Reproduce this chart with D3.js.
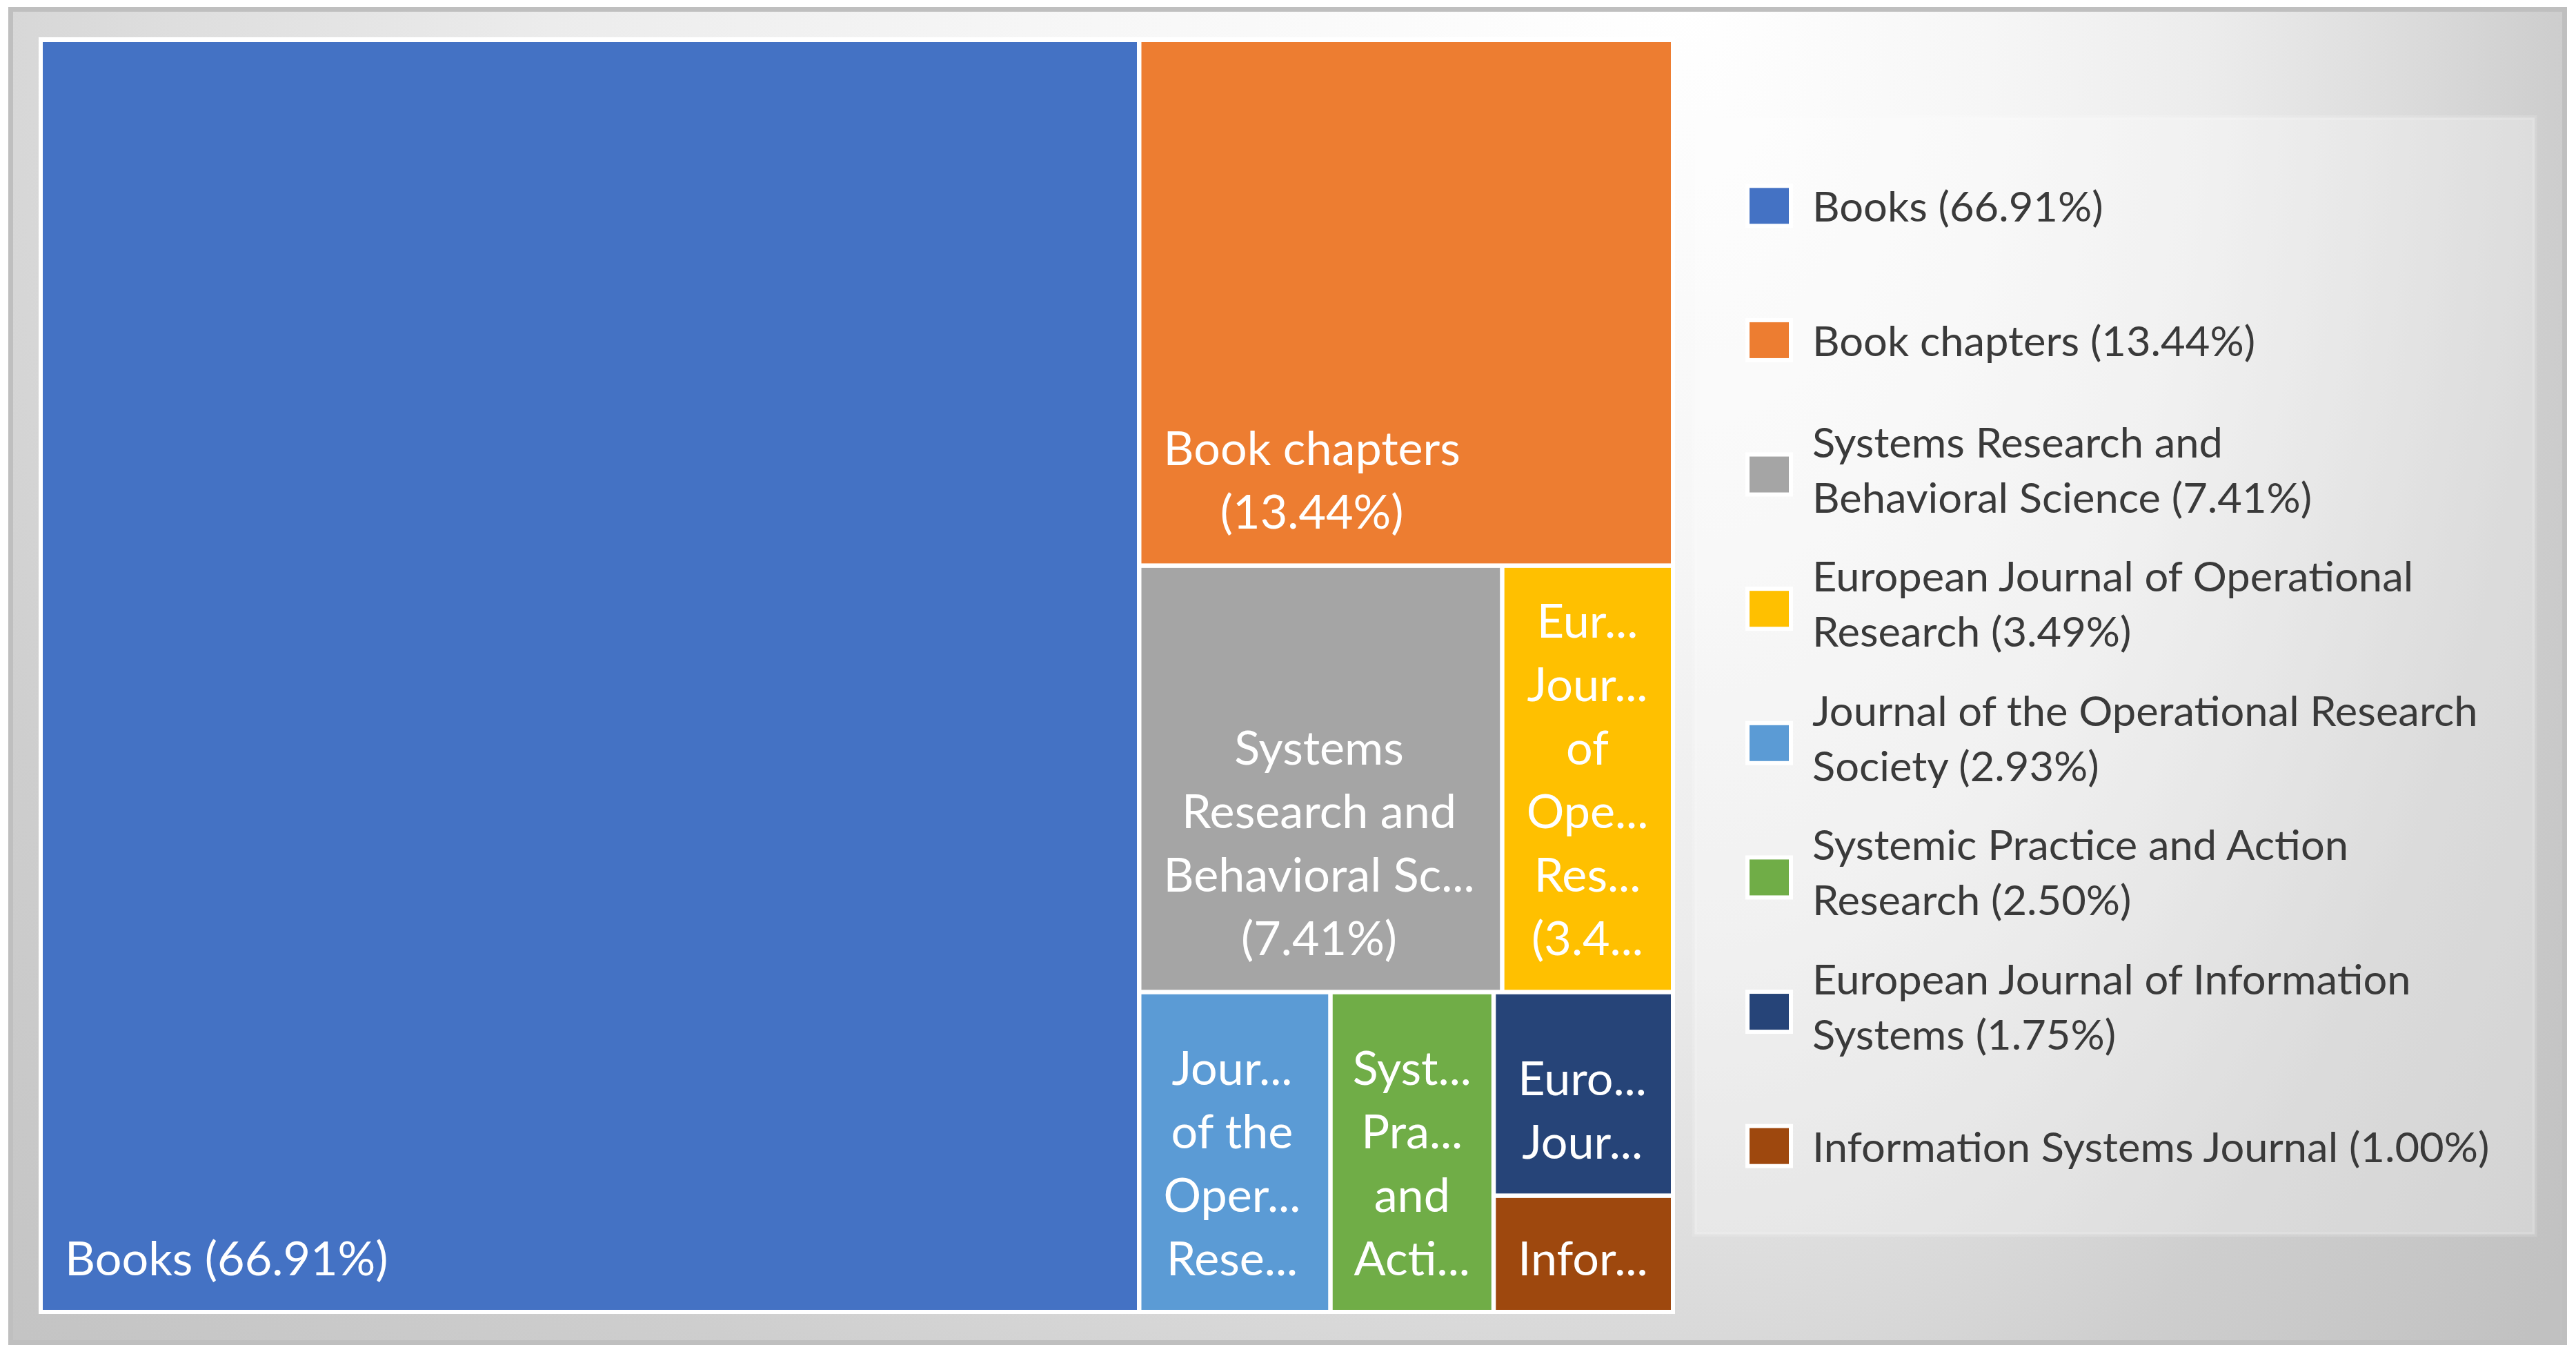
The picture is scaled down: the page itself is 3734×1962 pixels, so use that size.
<!DOCTYPE html>
<html><head><meta charset="utf-8">
<script src="https://cdn.jsdelivr.net/npm/d3@7"></script>
<style>html,body{margin:0;padding:0;background:#fff;overflow:hidden} svg{display:block}</style>
</head><body>
<svg id="chart" width="3734" height="1962"></svg>
<script>
// ---------- data ----------
const categories = [
  "Books",
  "Book chapters",
  "Systems Research and Behavioral Science",
  "European Journal of Operational Research",
  "Journal of the Operational Research Society",
  "Systemic Practice and Action Research",
  "European Journal of Information Systems",
  "Information Systems Journal"
];
const shares = [66.91, 13.44, 7.41, 3.49, 2.93, 2.50, 1.75, 1.00];
const colors = ["#4472C4", "#ED7D31", "#A5A5A5", "#FFC000", "#5B9BD5", "#70AD47", "#264478", "#9E480E"];
// labels as displayed inside the tiles (truncated as in the original)
const tileLabelLines = [
  ["Books (66.91%)"],
  ["Book chapters", "(13.44%)"],
  ["Systems", "Research and", "Behavioral Sc...", "(7.41%)"],
  ["Eur...", "Jour...", "of", "Ope...", "Res...", "(3.4..."],
  ["Jour...", "of the", "Oper...", "Rese..."],
  ["Syst...", "Pra...", "and", "Acti..."],
  ["Euro...", "Jour..."],
  ["Infor..."]
];
const legendLines = [
  ["Books (66.91%)"],
  ["Book chapters (13.44%)"],
  ["Systems Research and", "Behavioral Science (7.41%)"],
  ["European Journal of Operational", "Research (3.49%)"],
  ["Journal of the Operational Research", "Society (2.93%)"],
  ["Systemic Practice and Action", "Research (2.50%)"],
  ["European Journal of Information", "Systems (1.75%)"],
  ["Information Systems Journal (1.00%)"]
];

// ---------- drawing ----------
const svg = d3.select("#chart");
const defs = svg.append("defs");
const FONT = "Lato, 'Open Sans', sans-serif";

// background gradient (elliptical radial, lighter near top-right of plot)
const gStops = [[0,255],[0.35,246],[0.6,236],[0.8,222],[1.0,206],[1.3,193]];
function ellipseGradient(id, rx, ry) {
  const g = defs.append("radialGradient").attr("id", id)
    .attr("gradientUnits", "userSpaceOnUse")
    .attr("cx", 0).attr("cy", 0).attr("r", 1.3)
    .attr("gradientTransform", `translate(2450,0) scale(${rx},${ry})`);
  gStops.forEach(([d, v]) => g.append("stop").attr("offset", d / 1.3).attr("stop-color", d3.rgb(v, v, v).toString()));
}
ellipseGradient("bgL", 2750, 2250);
ellipseGradient("bgR", 1250, 2250);

const frame = {x0: 12, y0: 10, x1: 3721, y1: 1949};
svg.append("rect").attr("x", frame.x0).attr("y", frame.y0)
  .attr("width", 2450 - frame.x0).attr("height", frame.y1 - frame.y0).attr("fill", "url(#bgL)");
svg.append("rect").attr("x", 2450).attr("y", frame.y0)
  .attr("width", frame.x1 - 2450).attr("height", frame.y1 - frame.y0).attr("fill", "url(#bgR)");
svg.append("rect").attr("x", frame.x0 + 3.5).attr("y", frame.y0 + 3.5)
  .attr("width", frame.x1 - frame.x0 - 7).attr("height", frame.y1 - frame.y0 - 7)
  .attr("fill", "none").attr("stroke", "#bfbfbf").attr("stroke-width", 7);

// plot area
const plot = {x0: 56, y0: 54, x1: 2428, y1: 1904};
svg.append("rect").attr("x", plot.x0).attr("y", plot.y0)
  .attr("width", plot.x1 - plot.x0).attr("height", plot.y1 - plot.y0).attr("fill", "#ffffff");

const gap = 6.5;
const tm = {x0: plot.x0 + 2.75, y0: plot.y0 + 3.75, x1: plot.x1 - 2.75, y1: plot.y1 - 2.75};

const root = d3.hierarchy({children: categories.map((c, i) => ({name: c, value: shares[i], idx: i}))})
  .sum(d => d.value || 0)
  .sort((a, b) => b.value - a.value);
d3.treemap().tile(d3.treemapBinary).size([tm.x1 - tm.x0, tm.y1 - tm.y0]).round(false)(root);

const gTiles = svg.append("g").attr("transform", `translate(${tm.x0},${tm.y0})`);
const leaves = root.leaves();
gTiles.selectAll("rect.tile").data(leaves).join("rect").attr("class", "tile")
  .attr("x", d => d.x0 + gap / 2).attr("y", d => d.y0 + gap / 2)
  .attr("width", d => d.x1 - d.x0 - gap).attr("height", d => d.y1 - d.y0 - gap)
  .attr("fill", d => colors[d.data.idx]);

// font calibration (match the width of the original's Calibri-like text)
function measure(txt, size) {
  const t = svg.append("text").attr("font-family", FONT).attr("font-size", size).text(txt);
  const w = t.node().getComputedTextLength();
  t.remove();
  return w;
}
const tileFont = 68, legendFont = 60;
const tileSX = 1.01 * 464 / measure("Books (66.91%)", tileFont);
const legendSX = 0.5 * (416 / measure("Books (66.91%)", legendFont) +
                        995 / measure("Information Systems Journal (1.00%)", legendFont));

// tile labels: block anchored bottom-left, lines centred within block
const padX = 32, padBottom = 50, tileLH = 92;
leaves.forEach(d => {
  const lines = tileLabelLines[d.data.idx];
  const tx0 = d.x0 + gap / 2, tx1 = d.x1 - gap / 2, ty1 = d.y1 - gap / 2;
  const widths = lines.map(l => measure(l, tileFont) * tileSX);
  const blockW = d3.max(widths);
  let cx = tx0 + padX + blockW / 2;
  if (blockW > (tx1 - tx0) - 2 * padX) cx = (tx0 + tx1) / 2;
  const n = lines.length;
  lines.forEach((l, k) => {
    const by = ty1 - padBottom - (n - 1 - k) * tileLH;
    gTiles.append("text")
      .attr("transform", `translate(${cx},${by}) scale(${tileSX},1)`)
      .attr("text-anchor", "middle")
      .attr("font-family", FONT).attr("font-size", tileFont)
      .attr("fill", "#ffffff").text(l);
  });
});

// legend box
const lg = {x0: 2456.5, y0: 170.5, x1: 3674, y1: 1788.5};
svg.append("rect").attr("x", lg.x0).attr("y", lg.y0)
  .attr("width", lg.x1 - lg.x0).attr("height", lg.y1 - lg.y0)
  .attr("fill", "rgba(255,255,255,0.28)")
  .attr("stroke", "rgba(255,255,255,0.14)").attr("stroke-width", 7);

const ly = d3.scaleBand().domain(categories).range([201, 1758]);
const mW = 57, mH = 52, mX = 2536, textX = 2627, legendLH = 80;
const gLeg = svg.append("g");
categories.forEach((c, i) => {
  const cy = ly(c) + ly.bandwidth() / 2;
  gLeg.append("rect").attr("x", mX - 6).attr("y", cy - mH / 2 - 6)
    .attr("width", mW + 12).attr("height", mH + 12).attr("fill", "#ffffff");
  gLeg.append("rect").attr("x", mX).attr("y", cy - mH / 2)
    .attr("width", mW).attr("height", mH).attr("fill", colors[i]);
  const lines = legendLines[i];
  const n = lines.length;
  const off = n === 1 ? 23 : 15;
  lines.forEach((l, k) => {
    const by = cy + off + (k - (n - 1) / 2) * legendLH;
    gLeg.append("text")
      .attr("transform", `translate(${textX},${by}) scale(${legendSX},1)`)
      .attr("font-family", FONT).attr("font-size", legendFont)
      .attr("fill", "#3a3a3a").text(l);
  });
});
</script>
</body></html>
